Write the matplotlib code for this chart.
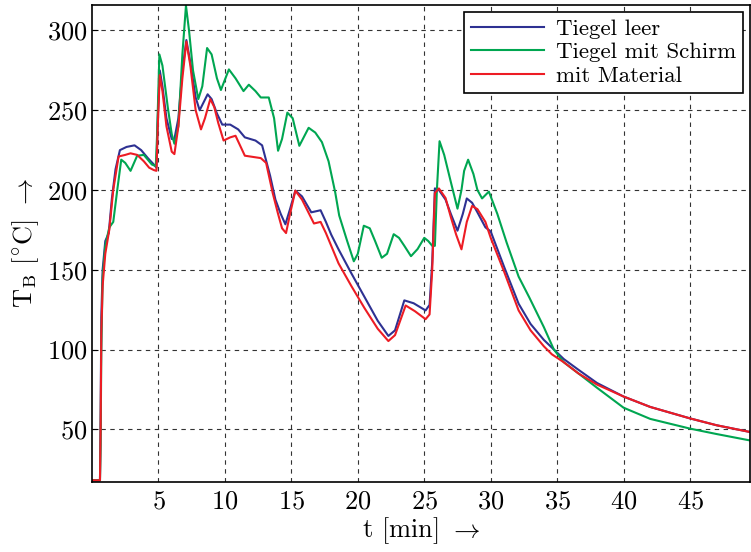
import matplotlib
matplotlib.use("Agg")
import matplotlib.pyplot as plt

plt.rcParams['font.family'] = 'cmr10'
plt.rcParams['mathtext.fontset'] = 'cm'
plt.rcParams['axes.formatter.use_mathtext'] = True

# Tiegel leer
t_leer = [0, 0.6, 0.65, 0.7, 0.8, 1.0, 1.26, 1.5, 1.77, 2.1, 2.6, 3.2, 3.7, 4.2, 4.65, 4.85,
          4.95, 5.1, 5.3, 5.6, 6.0, 6.2, 6.5, 6.8, 7.1, 7.4, 7.8, 8.1, 8.4, 8.7, 9.0, 9.4,
          9.8, 10.4, 11.0, 11.5, 12.3, 12.8, 13.4, 13.8, 14.2, 14.55, 14.9, 15.3, 15.8, 16.5,
          17.2, 17.6, 18.0, 18.55, 19.5, 20.5, 21.5, 22.3, 22.8, 23.5, 24.2, 25.1, 25.4, 25.6,
          25.8, 26.1, 26.6, 27.0, 27.5, 27.9, 28.2, 28.6, 29.0, 29.6, 30.0, 31.0, 32.1, 33.0,
          34.0, 34.75, 35.5, 36.6, 38.0, 40.0, 42.0, 45.0, 47.0, 49.5]
T_leer = [18, 18, 60, 120, 150, 168, 173, 195, 213, 225, 227, 228, 225, 220, 216, 214,
          245, 275, 265, 245, 232, 232, 245, 275, 294, 280, 258, 250, 255, 260, 257, 248,
          241, 241, 238, 233, 231, 228, 209, 194, 185, 178.5, 188, 199.6, 196, 186,
          187.3, 180, 172, 162.8, 148, 133, 118, 108.5, 112, 130.8, 129, 124.5, 128, 155,
          201, 200, 194, 185, 174.5, 185, 194.7, 192, 186, 176.6, 174, 152, 128.7, 116,
          106, 100, 94, 87.3, 79, 70.5, 64, 56.8, 52.5, 48.3]

# Tiegel mit Schirm
t_schirm = [0, 0.6, 0.65, 0.7, 0.8, 1.0, 1.3, 1.6, 1.9, 2.2, 2.5, 2.9, 3.4, 3.9, 4.5, 4.8,
            4.9, 5.07, 5.3, 5.7, 6.0, 6.2, 6.5, 6.8, 7.07, 7.3, 7.6, 8.0, 8.3, 8.66, 9.0,
            9.4, 9.7, 10.3, 10.8, 11.4, 11.8, 12.3, 12.7, 13.3, 13.7, 14.0, 14.3, 14.7,
            15.1, 15.6, 16.3, 16.8, 17.3, 17.8, 18.3, 18.6, 19.2, 19.7, 20.0, 20.45, 20.9,
            21.3, 21.8, 22.2, 22.7, 23.1, 23.5, 24.0, 24.5, 25.0, 25.3, 25.6, 25.8, 25.95,
            26.15, 26.5, 27.0, 27.5, 27.8, 28.0, 28.3, 28.7, 29.0, 29.35, 29.86, 30.5, 31.2,
            32.1, 32.9, 34.0, 34.75, 35.5, 36.6, 38.0, 40.0, 42.0, 45.0, 47.0, 49.5]
T_schirm = [18, 18, 40, 100, 145, 165, 176.5, 180, 200, 219, 217, 212, 221.5, 222, 216, 215,
            235, 285, 278, 252, 235, 229, 240, 285, 315.6, 300, 275, 257, 265, 289, 285,
            270, 262.7, 275.6, 270, 262, 266, 262, 258, 258, 245, 224.6, 232, 248.5,
            245, 227.7, 239, 236, 230, 218, 198.5, 184, 168, 155.3, 160, 177.6, 176,
            168, 157.5, 160, 172.3, 170, 165, 158.5, 163, 170, 168, 165, 165, 200,
            230.6, 222, 205, 188.3, 200, 212, 219, 210, 200, 194.7, 199, 185, 167,
            145.7, 132.7, 114, 100, 92, 85, 76, 63.5, 56.5, 50.4, 47, 43]

# mit Material
t_mat = [0, 0.6, 0.65, 0.7, 0.8, 1.0, 1.3, 1.6, 2.0, 2.5, 2.9, 3.4, 3.9, 4.3, 4.65, 4.85,
         4.95, 5.1, 5.3, 5.6, 6.0, 6.2, 6.5, 6.8, 7.1, 7.4, 7.8, 8.2, 8.5, 8.9, 9.2, 9.5,
         9.9, 10.4, 10.8, 11.5, 12.7, 13.1, 13.6, 14.0, 14.3, 14.6, 14.9, 15.3, 15.8, 16.7,
         17.2, 17.6, 18.0, 18.55, 19.5, 20.5, 21.5, 22.3, 22.8, 23.6, 24.3, 25.1, 25.4, 25.6,
         25.8, 26.1, 26.6, 27.0, 27.4, 27.8, 28.2, 28.6, 29.0, 29.6, 30.0, 31.0, 32.1, 33.0,
         34.0, 34.6, 35.5, 36.6, 38.0, 40.0, 42.0, 45.0, 47.0, 49.5]
T_mat = [18, 18, 50, 110, 140, 160, 175, 200, 221, 222, 223, 222, 218, 214, 212.5, 212,
         240, 272, 262, 240, 224, 222.5, 240, 270, 293, 278, 250, 238, 245, 257, 252, 242,
         231, 233, 234, 221.5, 220, 217, 198, 185, 176, 173, 185, 199.6, 194, 179,
         180, 173, 165, 154, 140, 126, 113, 105.3, 109, 127.6, 124, 119, 122, 150,
         198, 201, 195, 183, 172, 162.8, 180, 190, 188, 180, 170, 149, 124.5, 112,
         102, 97, 92, 85, 78, 70.5, 64, 56.8, 52.5, 48.3]

fig = plt.figure(figsize=(7.51, 5.52), dpi=100)
ax = fig.add_axes([0.1225, 0.127, 0.876, 0.864])

ax.plot(t_leer, T_leer, color='#2e3192', lw=1.5, label='Tiegel leer')
ax.plot(t_schirm, T_schirm, color='#00a651', lw=1.5, label='Tiegel mit Schirm')
ax.plot(t_mat, T_mat, color='#ed1c24', lw=1.5, label='mit Material')

ax.set_xlim(0, 49.5)
ax.set_ylim(17, 316)
ax.set_xticks([5, 10, 15, 20, 25, 30, 35, 40, 45])
ax.set_yticks([50, 100, 150, 200, 250, 300])
ax.grid(True, color='#333333', linestyle=(0, (4, 4)), linewidth=0.8)
ax.tick_params(direction='in', labelsize=19, length=4)
ax.tick_params(axis='x', length=0, pad=6)
for s in ax.spines.values():
    s.set_linewidth(1.2)

ax.set_xlabel(r'$\mathrm{t}$ [min] $\rightarrow$', fontsize=19, labelpad=1)
ax.set_ylabel(r'$\mathrm{T_B}$ [$^{\circ}$C] $\rightarrow$', fontsize=19, labelpad=4)

leg = ax.legend(loc='upper right', fontsize=16.5, fancybox=False, framealpha=1,
                edgecolor='black', handlelength=3.2, borderpad=0.3, labelspacing=0.15,
                handletextpad=0.5, borderaxespad=0.3)
leg.get_frame().set_linewidth(1.2)

fig.savefig('out.png', dpi=100)
